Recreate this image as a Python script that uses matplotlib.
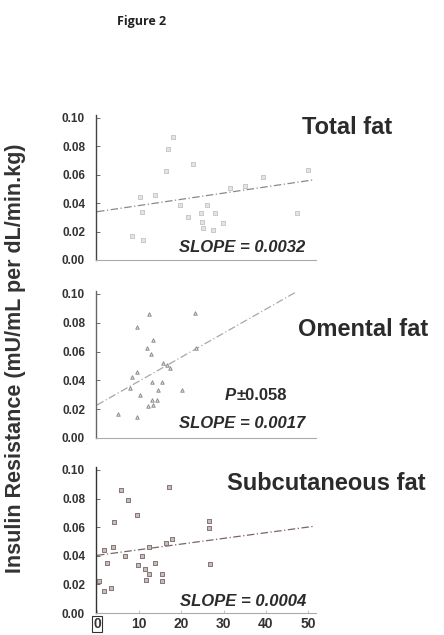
import matplotlib
matplotlib.use('Agg')
import matplotlib.pyplot as plt

# data (percent fat on x, insulin resistance on y)
total_x = [22.8, 16.4, 39.4, 50.1, 10.2, 13.7, 10.6, 19.7, 26.1, 31.5, 35.0, 21.6, 24.6,
           28.0, 24.8, 29.8, 25.2, 27.6, 47.3, 8.2, 11.0, 18.1, 16.9]
total_y = [0.0676, 0.0629, 0.0587, 0.0634, 0.0441, 0.0458, 0.034, 0.0387, 0.0387, 0.051,
           0.052, 0.0305, 0.0329, 0.0333, 0.027, 0.0263, 0.0223, 0.0211, 0.0333, 0.0169,
           0.0141, 0.0868, 0.078]
total_fit_x = [0, 51]
total_fit_y = [0.034, 0.0563]

omental_x = [12.4, 23.2, 9.4, 13.3, 11.8, 12.8, 23.5, 15.7, 16.7, 17.3, 8.2, 9.5, 7.8,
             13.0, 15.3, 14.5, 20.1, 10.2, 13.0, 14.1, 12.2, 13.3, 5.0, 9.4]
omental_y = [0.0861, 0.087, 0.0773, 0.068, 0.0623, 0.0583, 0.0623, 0.0519, 0.0507, 0.0484,
             0.0426, 0.0456, 0.0345, 0.0391, 0.0391, 0.0333, 0.0333, 0.0299, 0.0264,
             0.0264, 0.0222, 0.0229, 0.0167, 0.0144]
omental_fit_x = [0, 47.3]
omental_fit_y = [0.0229, 0.1016]

subq_x = [5.8, 17.1, 7.4, 9.5, 4.0, 26.6, 26.6, 17.7, 16.4, 12.4, 1.7, 3.9, 6.6, 10.6,
          2.4, 13.7, 9.8, 11.4, 26.8, 12.4, 15.3, 11.6, 15.3, 0.5, 1.7, 3.2]
subq_y = [0.0862, 0.0879, 0.0792, 0.0687, 0.0636, 0.0645, 0.0594, 0.052, 0.049, 0.0459,
          0.0443, 0.0459, 0.0396, 0.0396, 0.035, 0.035, 0.0333, 0.031, 0.0343, 0.0273,
          0.0273, 0.0233, 0.0222, 0.0226, 0.0152, 0.0175]
subq_fit_x = [0, 51.3]
subq_fit_y = [0.0403, 0.0606]

y_ticks = [0.00, 0.02, 0.04, 0.06, 0.08, 0.10]
x_ticks = [0, 10, 20, 30, 40, 50]

W, H = 444, 635
plt.rcParams['font.family'] = ['Liberation Sans', 'DejaVu Sans']
fig = plt.figure(figsize=(W / 100, H / 100), dpi=100)


def fx(px):
    return px / W


def fy(py):
    return 1 - py / H


def panel(bottom_px, px_per_01, xs, ys, fx_, fy_, marker, mface, medge, lcolor, spine_col):
    top_px = bottom_px - 1.02 * px_per_01
    left_px, right_px = 97 - 0.2 * 4.22, 97 + 52 * 4.22
    ax = fig.add_axes([fx(left_px), fy(bottom_px), (right_px - left_px) / W,
                       (bottom_px - top_px) / H])
    ax.scatter(xs, ys, s=6, marker=marker, facecolors=mface, edgecolors=medge,
               linewidths=0.7, zorder=3)
    ax.plot(fx_, fy_, color=lcolor, lw=0.9, ls=(0, (6, 2, 1, 2)), zorder=2)
    ax.set_xlim(-0.2, 52)
    ax.set_ylim(0, 0.102)
    ax.set_yticks(y_ticks)
    ax.set_yticklabels(['%.2f' % v for v in y_ticks], fontsize=8.5, fontweight='bold',
                       color='#333333')
    ax.tick_params(axis='y', direction='in', length=3, width=0.6, pad=8, colors='#555555',
                   labelcolor='#333333')
    for s in ['top', 'right']:
        ax.spines[s].set_visible(False)
    ax.spines['left'].set_color(spine_col)
    ax.spines['left'].set_linewidth(1.0)
    ax.spines['bottom'].set_color('#aaaaaa')
    ax.spines['bottom'].set_linewidth(0.8)
    ax.spines['bottom'].set_linestyle((0, (3, 1)))
    return ax


ax1 = panel(260, 142, total_x, total_y, total_fit_x, total_fit_y, 's',
            '#e4e4e4', '#c8c8c8', '#8a8a8a', '#444444')
ax1.set_xticks([])
ax2 = panel(438, 144, omental_x, omental_y, omental_fit_x, omental_fit_y, '^',
            '#f0f0f0', '#8c8c8c', '#a8a8a8', '#666666')
ax2.set_xticks([])
ax3 = panel(613, 143, subq_x, subq_y, subq_fit_x, subq_fit_y, 's',
            '#c8bcbc', '#857575', '#7a6464', '#333333')
ax3.set_xticks(x_ticks)
ax3.set_xticklabels([str(v) for v in x_ticks], fontsize=10, fontweight='bold', color='#333333')
ax3.tick_params(axis='x', direction='in', length=2, width=0.5, pad=3, colors='#aaaaaa',
                labelcolor='#333333')
ax3.get_xticklabels()[0].set_bbox(dict(boxstyle='square,pad=0.05', fc='none', ec='#333333', lw=0.8))

# titles and annotations
title_kw = dict(fontsize=17, fontweight='bold', color='#2b2b2b', va='center', ha='left')
fig.text(fx(302), fy(128), 'Total fat', **title_kw)
fig.text(fx(298), fy(330), 'Omental fat', **title_kw)
fig.text(fx(227), fy(483), 'Subcutaneous fat', **title_kw)

slope_kw = dict(fontsize=12, fontweight='bold', style='italic', color='#2b2b2b',
                va='center', ha='center')
fig.text(fx(242), fy(247), 'SLOPE = 0.0032', **slope_kw)
fig.text(fx(242), fy(423), 'SLOPE = 0.0017', **slope_kw)
fig.text(fx(243), fy(602), 'SLOPE = 0.0004', **slope_kw)
fig.text(fx(236), fy(395), 'P', fontsize=12, fontweight='bold', style='italic',
         color='#2b2b2b', va='center', ha='right')
fig.text(fx(237), fy(395), '\u00b10.058', fontsize=12, fontweight='bold',
         color='#2b2b2b', va='center', ha='left')

fig.text(fx(16), fy(358), 'Insulin Resistance (mU/mL per dL/min.kg)', rotation=90,
         fontsize=15.5, fontweight='bold', color='#333333', va='center', ha='center')

fig.text(fx(117), fy(22), 'Figure 2', fontsize=9, fontweight='bold', color='#222222',
         va='center', ha='left', family=['Open Sans', 'DejaVu Sans'])

plt.savefig('out.png', dpi=100)
plt.close()
